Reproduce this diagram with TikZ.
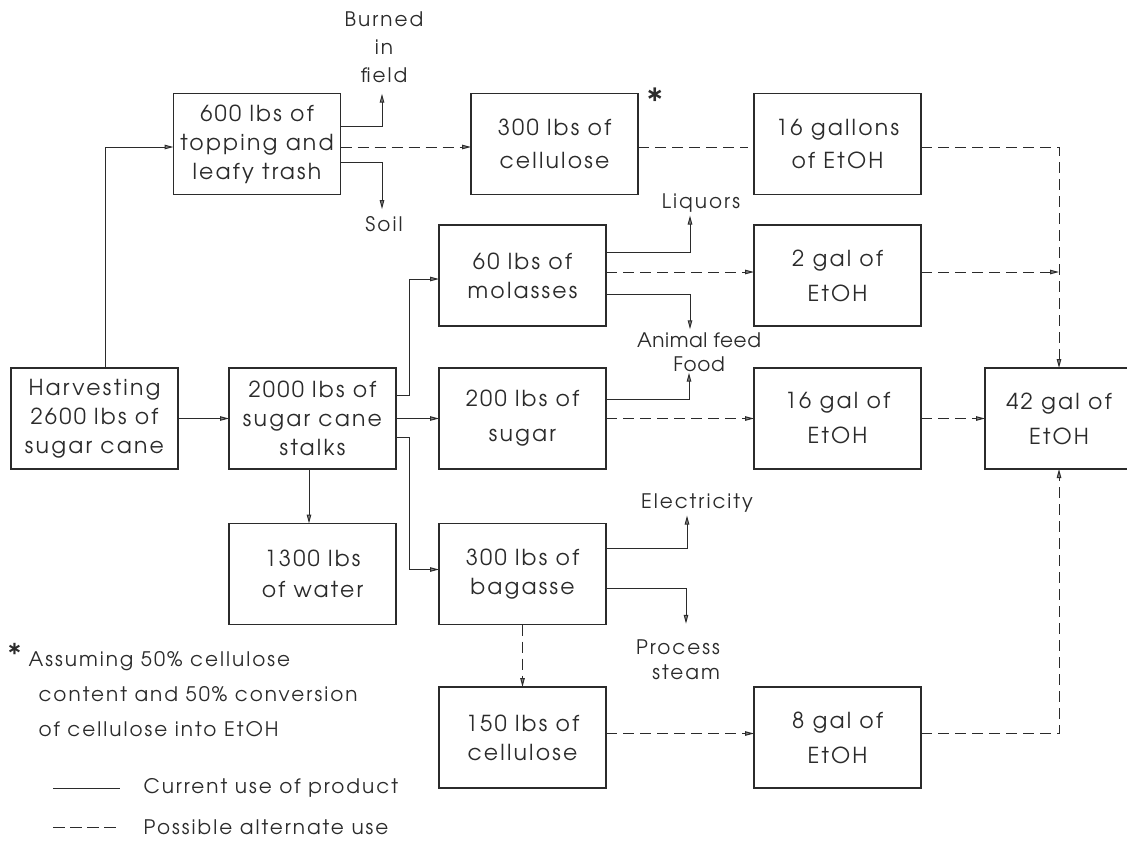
\documentclass[tikz,border=0pt]{standalone}
\usepackage{fontspec}
\setmainfont{texgyreadventor-regular.otf}
\newfontfamily\boxfont{texgyreadventor-regular.otf}[LetterSpace=10]
\newfontfamily\labelfont{texgyreadventor-regular.otf}[LetterSpace=10]
\newfontfamily\tightfont{texgyreadventor-regular.otf}[LetterSpace=3]
\usetikzlibrary{positioning, arrows.meta}
\definecolor{colour_ink}{HTML}{2b2b2b}
\definecolor{colour_tip}{HTML}{8a8a8a}

\begin{document}
\begin{tikzpicture}[
    x=1pt, y=-1pt,
    font=\labelfont\fontsize{20}{29}\selectfont, text=colour_ink,
    box/.style={rectangle, draw=colour_ink, line width=1.5pt, outer sep=0pt,
                minimum height=101pt, minimum width=167pt, inner sep=0pt, align=center,
                font=\boxfont\fontsize{22}{29}\selectfont},
    lbl/.style={inner sep=3pt, align=center},
    flow/.style={draw=colour_ink, line width=1pt,
                 -{Triangle[length=9pt, width=4.5pt, fill=colour_tip]}},
    altflow/.style={flow, dash pattern=on 11pt off 6pt},
    plain/.style={draw=colour_ink, line width=1pt},
]
\useasboundingbox (0,0) rectangle (1127,846);

% Main row
\node[box] (harvest) at (94.5,418.5) {Harvesting\\2600 lbs of\\sugar cane};
\node[box, right=51pt of harvest] (stalks) {2000 lbs of\\sugar cane\\stalks};
\node[box, right=43pt of stalks] (sugar) {200 lbs of\\[6pt]sugar};
\node[box, right=148pt of sugar] (galC) {16 gal of\\[6pt]EtOH};
\node[box, right=64pt of galC, minimum width=148pt] (total) {42 gal of\\[6pt]EtOH};

% Rows above and below
\node[box, below=54.5pt of stalks] (water) {1300 lbs\\[2pt]of water};
\node[box, below=54.5pt of sugar] (bagasse) {300 lbs of\\bagasse};
\node[box, below=62.5pt of bagasse] (cellB) {150 lbs of\\cellulose};
\node[box, right=148pt of cellB] (galD) {8 gal of\\[6pt]EtOH};
\node[box, above=42pt of sugar] (molasses) {60 lbs of\\molasses};
\node[box, right=148pt of molasses] (galB) {2 gal of\\[6pt]EtOH};
\node[box] (trash) at (257,144) {600 lbs of\\topping and\\leafy trash};
\node[box, right=130.5pt of trash] (cellA) {300 lbs of\\[4pt]cellulose};
\node[box, right=116pt of cellA] (galA) {16 gallons\\[4pt]of EtOH};
\node[font=\fontsize{36}{36}\selectfont, anchor=north] (star) at (655,84) {*};

% Product labels
\node[lbl, font=\labelfont\fontsize{20}{28}\selectfont] (burned) at (384,47) {Burned\\in\\field};
\node[lbl] (soil) at (384,224) {Soil};
\node[lbl] (liquors) at (701,203) {Liquors};
\node[lbl, font=\tightfont\fontsize{20}{29}\selectfont] (feed) at (699,340) {Animal feed};
\node[lbl, inner sep=1pt, font=\tightfont\fontsize{20}{29}\selectfont] (food) at (699,364) {Food};
\node[lbl] (elec) at (697,503) {Electricity};
\node[lbl, align=right, font=\labelfont\fontsize{20}{25}\selectfont] (steam) at (678,660) {Process\\steam};

% Current use
\draw[flow] (harvest.east) -- (stalks.west);
\draw[flow] ([xshift=10.5pt]harvest.north) |- ([yshift=-3pt]trash.west);
\draw[flow] ([yshift=18pt]trash.east) -| ([xshift=-2pt,yshift=-8pt]burned.south);
\draw[flow] ([yshift=-18pt]trash.east) -| ([xshift=-2pt,yshift=4pt]soil.north);
\draw[flow] ([yshift=23.5pt]stalks.east) -- ++(13pt,0) |- ([yshift=-3.5pt]molasses.west);
\draw[flow] (stalks.east) -- (sugar.west);
\draw[flow] ([yshift=-18.5pt]stalks.east) -- ++(13pt,0) |- ([yshift=4.5pt]bagasse.west);
\draw[flow] ([xshift=-3.5pt]stalks.south) -- ([xshift=-3.5pt]water.north);
\draw[flow] ([yshift=23.5pt]molasses.east) -| ([xshift=-11pt]liquors.south);
\draw[flow] ([yshift=-18.5pt]molasses.east) -| ([xshift=-9pt]feed.north);
\draw[flow] ([yshift=19.5pt]sugar.east) -| ([xshift=-10pt]food.south);
\draw[flow] ([yshift=25.5pt]bagasse.east) -| ([xshift=-10pt]elec.south);
\draw[flow] ([yshift=-14.5pt]bagasse.east) -| ([xshift=8pt,yshift=13pt]steam.north);

% Possible alternate use
\draw[altflow] ([yshift=-3pt]trash.east) -- ([yshift=-3pt]cellA.west);
\draw[plain, dash pattern=on 11pt off 6pt] ([yshift=-3pt]cellA.east) -- ([yshift=-3pt,xshift=-6pt]galA.west);
\draw[altflow] ([yshift=-3pt]galA.east) -| (total.north);
\draw[altflow] ([yshift=3.5pt]molasses.east) -- ([yshift=3.5pt]galB.west);
\draw[altflow] ([yshift=3.5pt]galB.east) -- ([yshift=3.5pt]galB.east -| total.north);
\draw[altflow] (sugar.east) -- (galC.west);
\draw[altflow] (galC.east) -- (total.west);
\draw[altflow] (bagasse.south) -- (cellB.north);
\draw[altflow] ([yshift=4pt]cellB.east) -- ([yshift=4pt]galD.west);
\draw[altflow] ([yshift=4pt]galD.east) -| (total.south);

% Footnote and legend
\node[font=\fontsize{30}{30}\selectfont, anchor=north] (notestar) at (15,640) {*};
\node[anchor=north west, align=left, font=\labelfont\fontsize{20}{35}\selectfont] (note) at (35,648)
     {\hspace*{-10pt}Assuming 50\% cellulose\\content and 50\% conversion\\of cellulose into EtOH};
\node[anchor=west, font=\labelfont\fontsize{20}{22}\selectfont] (cuse) at (140,788) {Current use of product};
\node[anchor=west, font=\labelfont\fontsize{20}{22}\selectfont] (puse) at (140,827) {Possible alternate use};
\draw[plain] ([xshift=-87pt]cuse.west) -- ([xshift=-20pt]cuse.west);
\draw[plain, dash pattern=on 12pt off 5pt] ([xshift=-87pt]puse.west) -- ([xshift=-20pt]puse.west);

\end{tikzpicture}
\end{document}
